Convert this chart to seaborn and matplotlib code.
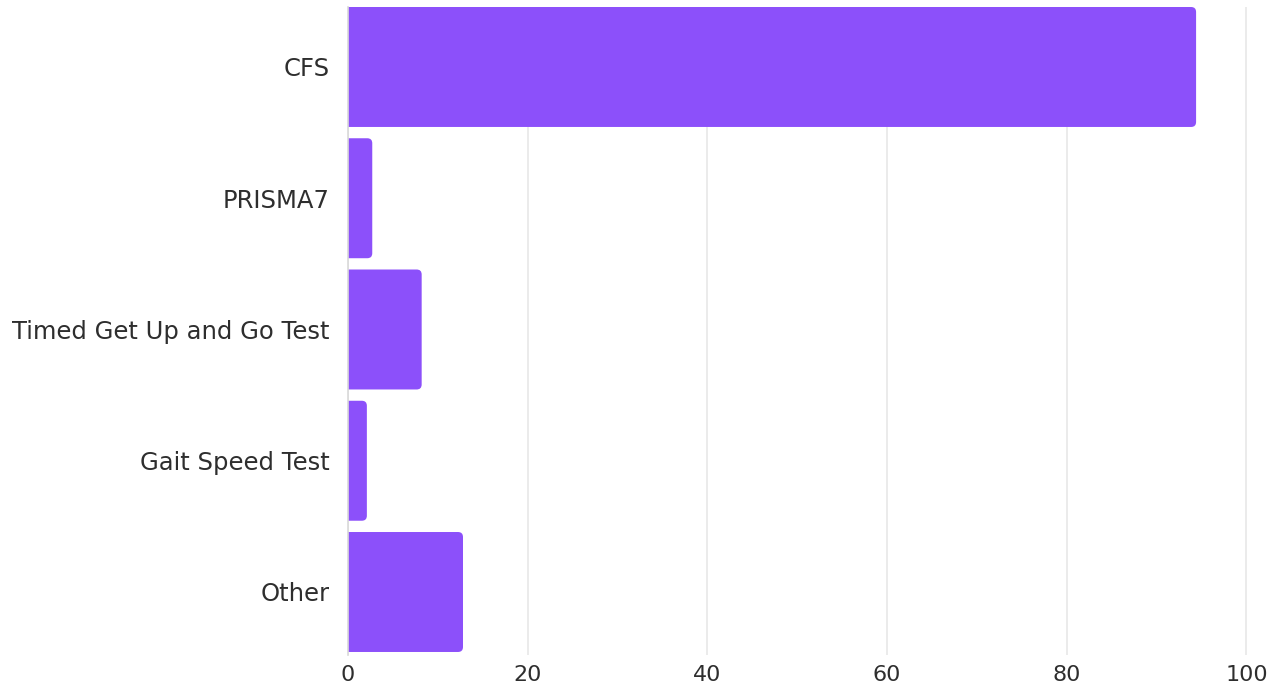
import matplotlib
matplotlib.use("Agg")
import matplotlib.pyplot as plt
import seaborn as sns
import pandas as pd
from matplotlib.patches import FancyBboxPatch

categories = ["CFS", "PRISMA7", "Timed Get Up and Go Test", "Gait Speed Test", "Other"]
values = [94.4, 2.7, 8.2, 2.1, 12.8]
x_ticks = [0, 20, 40, 60, 80, 100]

bar_color = "#8C50FA"
text_color = "#2e2e2e"

df = pd.DataFrame({"tool": categories, "count": values})

sns.set_theme(style="white")
plt.rcParams["font.family"] = ["DejaVu Sans"]

W, H = 1272, 688
fig = plt.figure(figsize=(W / 100, H / 100), dpi=100)
ax_left, ax_right, ax_top, ax_bottom = 348, 1272, 7, 655
ax = fig.add_axes([ax_left / W, 1 - ax_bottom / H,
                   (ax_right - ax_left) / W, (ax_bottom - ax_top) / H])

bar_h = 0.914
sns.barplot(data=df, y="tool", x="count", orient="h", color=bar_color,
            width=bar_h, saturation=1, ax=ax, zorder=3)

x_max = 102.85
y_lo, y_hi = 4.48, -0.457
ax.set_xlim(0, x_max)
ax.set_ylim(y_lo, y_hi)

# swap the plain rectangles for bars with rounded ends
px_x = x_max / (ax_right - ax_left)
px_y = (y_lo - y_hi) / (ax_bottom - ax_top)
radius_px = 5
for rect in list(ax.patches):
    x0, y0 = rect.get_x(), rect.get_y()
    w, h = rect.get_width(), rect.get_height()
    rect.remove()
    ext = 2.0
    box = FancyBboxPatch((x0 - ext, y0), w + ext, h,
                         boxstyle=f"round,pad=0,rounding_size={radius_px * px_x}",
                         mutation_aspect=px_y / px_x,
                         facecolor=bar_color, edgecolor="none", zorder=3)
    ax.add_patch(box)

ax.set_xticks(x_ticks)
ax.set_xticklabels([str(t) for t in x_ticks])
ax.xaxis.grid(True, color="#e8e8e8", linewidth=1.2, zorder=0)
ax.yaxis.grid(False)
for side in ["top", "right", "bottom"]:
    ax.spines[side].set_visible(False)
ax.spines["left"].set_color("#d9d9d9")
ax.spines["left"].set_linewidth(1.2)
ax.spines["left"].set_zorder(4)

ax.tick_params(axis="x", length=0, pad=7, labelsize=16, labelcolor=text_color)
ax.tick_params(axis="y", length=0, pad=13, labelsize=17.5, labelcolor=text_color)
for lbl in ax.get_yticklabels():
    lbl.set_va("center_baseline")
ax.set_xlabel("")
ax.set_ylabel("")

fig.savefig("out.png", dpi=100)
